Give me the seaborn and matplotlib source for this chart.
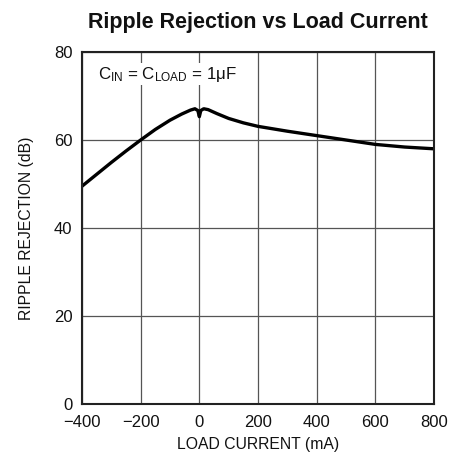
import matplotlib
matplotlib.use("Agg")
import matplotlib.pyplot as plt
import seaborn as sns
import pandas as pd

load_current = [-400, -350, -300, -250, -200, -150, -100, -60, -30, -15, -5, 0,
                5, 15, 30, 60, 100, 150, 200, 300, 400, 500, 600, 700, 800]
ripple_rej = [49.5, 52.2, 54.9, 57.5, 60.0, 62.4, 64.5, 65.9, 66.8, 67.1, 66.7, 65.3,
              66.7, 67.1, 66.9, 66.0, 64.9, 63.9, 63.1, 62.0, 61.0, 60.0, 59.0, 58.4, 58.0]
x_ticks = [-400, -200, 0, 200, 400, 600, 800]
x_tick_labels = ["\u2212400", "\u2212200", "0", "200", "400", "600", "800"]
y_ticks = [0, 20, 40, 60, 80]

sns.set_theme(style="white")
FONT = ["Liberation Sans Narrow", "Liberation Sans", "DejaVu Sans"]
plt.rcParams["font.family"] = FONT
plt.rcParams["mathtext.fontset"] = "custom"
plt.rcParams["mathtext.rm"] = "Liberation Sans"
plt.rcParams["mathtext.it"] = "Liberation Sans"

df = pd.DataFrame({"x": load_current, "y": ripple_rej})

fig = plt.figure(figsize=(4.64, 4.58), dpi=100)
ax = fig.add_axes([82/464, 54/458, 352/464, 352/458])
sns.lineplot(data=df, x="x", y="y", ax=ax, color="black", linewidth=2.4,
             estimator=None, sort=False)

ax.set_xlim(-400, 800)
ax.set_ylim(0, 80)
ax.set_xticks(x_ticks)
ax.set_xticklabels(x_tick_labels)
ax.set_yticks(y_ticks)
ax.grid(True, color="#555555", linewidth=0.9)
ax.tick_params(length=0, labelsize=12, colors="#111111")
ax.tick_params(axis="x", pad=8)
ax.tick_params(axis="y", pad=7)
for s in ax.spines.values():
    s.set_color("#222222")
    s.set_linewidth(1.5)

ax.set_xlabel("LOAD CURRENT (mA)", fontsize=11.3, color="#111111", labelpad=5)
ax.set_ylabel("RIPPLE REJECTION (dB)", fontsize=11.3, color="#111111", labelpad=14)
ax.set_title("Ripple Rejection vs Load Current", fontsize=15.5, fontweight="bold",
             color="#111111", pad=17)

ax.text(-345, 75, "C$_{\\mathrm{IN}}$ = C$_{\\mathrm{LOAD}}$ = 1\u03bcF",
        fontsize=12.2, color="#111111", va="center", ha="left",
        bbox=dict(facecolor="white", edgecolor="none", pad=1))

fig.savefig("out.png", dpi=100)
